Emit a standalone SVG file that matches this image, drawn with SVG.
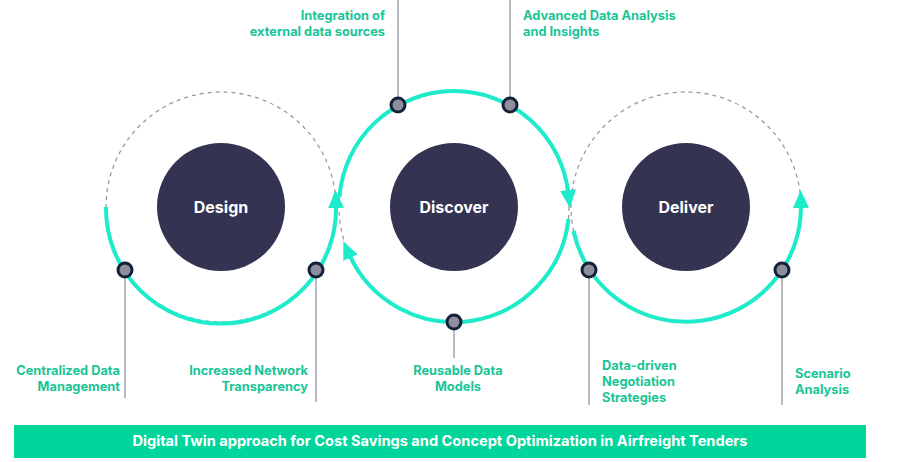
<svg xmlns="http://www.w3.org/2000/svg" width="900" height="462" viewBox="0 0 900 462">
<style>
.dash{fill:none;stroke:#9a9aa6;stroke-width:1.3;stroke-dasharray:4 4}
.ring{fill:none;stroke:#1EEBC9;stroke-width:4;marker-end:url(#ah)}
.core{fill:#343352}
.lbl{font-family:"Inter","Liberation Sans",sans-serif;font-weight:700;font-size:16px;fill:#fff;text-anchor:middle}
.t{font-family:"Inter","Liberation Sans",sans-serif;font-weight:700;font-size:12.8px;fill:#19C596}
.ln{stroke:#a4a3b0;stroke-width:1.5}
.dot{fill:#8f8e9c;stroke:#132238;stroke-width:3}
</style>
<defs>
<marker id="ah" markerUnits="userSpaceOnUse" markerWidth="20" markerHeight="20" refX="4" refY="10" orient="auto" viewBox="0 0 20 20">
<path d="M0,2 L18,10 L0,18 Z" fill="#1EEBC9"/>
</marker>
</defs>
<g id="connectors">
<line class="ln" x1="125" y1="270" x2="125" y2="398"/>
<line class="ln" x1="316" y1="270" x2="316" y2="402"/>
<line class="ln" x1="454" y1="322" x2="454" y2="358"/>
<line class="ln" x1="398" y1="0" x2="398" y2="105"/>
<line class="ln" x1="510" y1="0" x2="510" y2="105"/>
<line class="ln" x1="589" y1="270" x2="589" y2="405"/>
<line class="ln" x1="782" y1="270" x2="782" y2="405"/>
<circle class="dash" cx="221" cy="207" r="115"/>
<circle class="dash" cx="454" cy="207" r="115"/>
<circle class="dash" cx="686" cy="207" r="115"/>
<path class="ring" d="M106,207 A115,115 0 1 0 335.9,204"/>
<path class="ring" d="M339.4,197 A115,115 0 0 1 568.4,194"/>
<path class="ring" d="M568.4,219 A115,115 0 0 1 349,254"/>
<path class="ring" d="M573.5,231 A115,115 0 0 0 800.9,204"/>
</g>
<g id="design"><circle class="core" cx="221" cy="207" r="64"/><text class="lbl" x="221" y="213">Design</text></g>
<g id="discover"><circle class="core" cx="454" cy="207" r="64"/><text class="lbl" x="454" y="213">Discover</text></g>
<g id="deliver"><circle class="core" cx="686" cy="207" r="64"/><text class="lbl" x="686" y="213">Deliver</text></g>
<g id="dots">
<circle class="dot" cx="125" cy="270" r="7"/>
<circle class="dot" cx="316" cy="270" r="7"/>
<circle class="dot" cx="398" cy="105" r="7"/>
<circle class="dot" cx="510" cy="105" r="7"/>
<circle class="dot" cx="454" cy="322" r="7"/>
<circle class="dot" cx="589" cy="270" r="7"/>
<circle class="dot" cx="782" cy="270" r="7"/>
</g>
<g id="labels">
<text class="t" x="385" y="20" text-anchor="end">Integration of</text>
<text class="t" x="385" y="36" text-anchor="end">external data sources</text>
<text class="t" x="523" y="20">Advanced Data Analysis</text>
<text class="t" x="523" y="36">and Insights</text>
<text class="t" x="120" y="375" text-anchor="end">Centralized Data</text>
<text class="t" x="120" y="391" text-anchor="end">Management</text>
<text class="t" x="308" y="375" text-anchor="end">Increased Network</text>
<text class="t" x="308" y="391" text-anchor="end">Transparency</text>
<text class="t" x="458" y="375" text-anchor="middle">Reusable Data</text>
<text class="t" x="458" y="391" text-anchor="middle">Models</text>
<text class="t" x="602" y="370">Data-driven</text>
<text class="t" x="602" y="386">Negotiation</text>
<text class="t" x="602" y="402">Strategies</text>
<text class="t" x="795" y="378">Scenario</text>
<text class="t" x="795" y="394">Analysis</text>
</g>
<g id="banner">
<rect x="14" y="425" width="852" height="33" fill="#00D69B"/>
<text x="440" y="446" text-anchor="middle" font-family="Inter,'Liberation Sans',sans-serif" font-weight="700" font-size="14.6" fill="#fff">Digital Twin approach for Cost Savings and Concept Optimization in Airfreight Tenders</text>
</g>
</svg>
